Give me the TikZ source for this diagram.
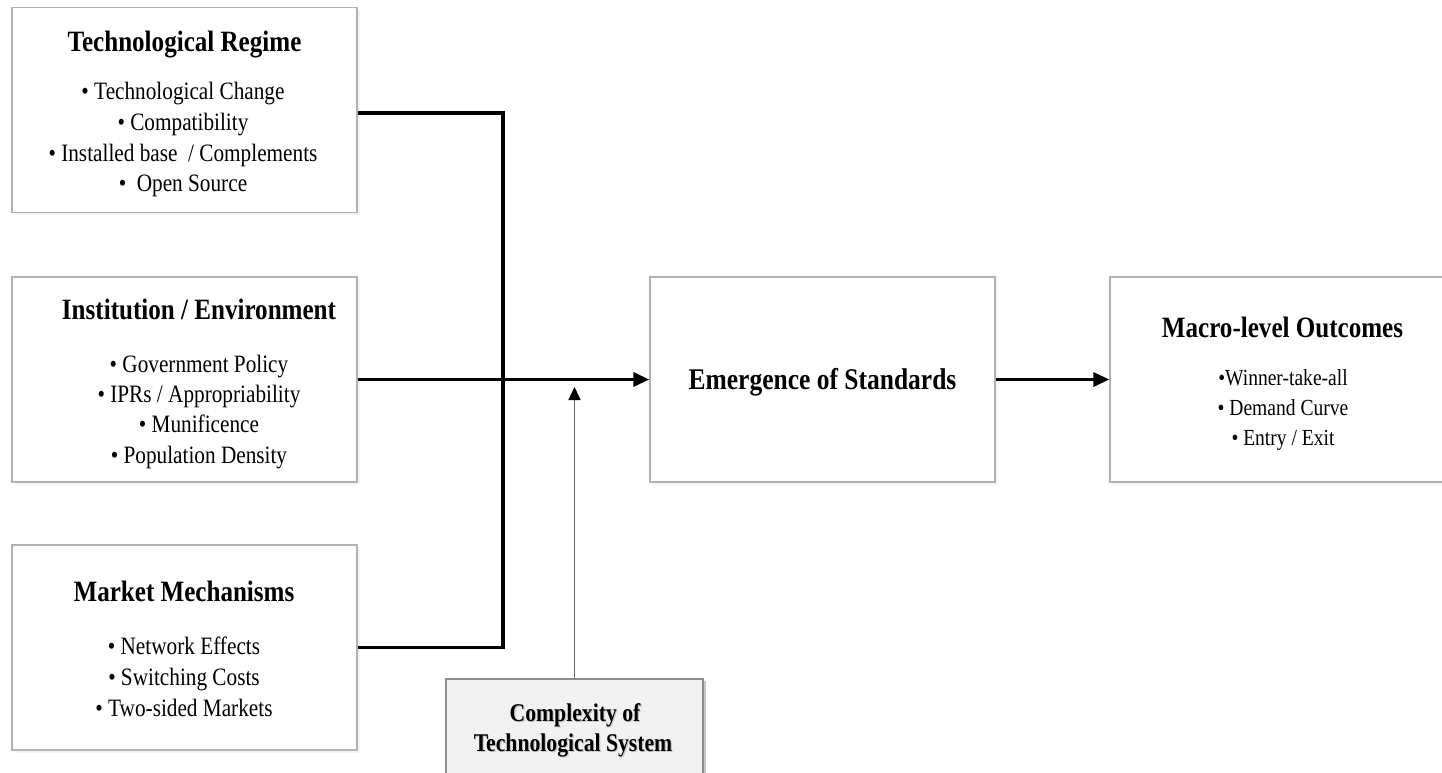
\documentclass[tikz,border=0pt]{standalone}
\usepackage{fontspec}
\setmainfont{Liberation Serif}
% narrow Times-like face used throughout the figure
\newfontfamily\condfont[FakeStretch=0.85]{Liberation Serif}
\usetikzlibrary{arrows.meta,shadows}

\tikzset{
  panel/.style={draw=black!30, line width=1.3pt, fill=white,
    drop shadow={shadow xshift=2.5pt, shadow yshift=-2.5pt, fill=black!8},
    minimum width=345pt, minimum height=205pt, inner sep=0pt},
  greypanel/.style={draw=black!45, line width=1.3pt, fill=black!5,
    drop shadow={shadow xshift=3pt, shadow yshift=-2pt, fill=black!45},
    minimum width=257pt, minimum height=130pt, inner sep=0pt},
  heading/.style={font=\condfont\bfseries\fontsize{29.5}{34}\selectfont, anchor=base, inner sep=0pt},
  entry/.style={font=\condfont\fontsize{25}{30}\selectfont, anchor=base, inner sep=0pt},
  smallentry/.style={font=\condfont\fontsize{23}{28}\selectfont, anchor=base, inner sep=0pt},
  sysheading/.style={font=\condfont\bfseries\fontsize{25.5}{30}\selectfont, anchor=base, inner sep=0pt},
  link/.style={line width=3.3pt, black},
  linkarrow/.style={link, -{Triangle[length=16pt,width=14pt]}},
  thinarrow/.style={line width=1.4pt, black!60, -{Triangle[length=13pt,width=12pt,color=black]}}
}

\begin{document}
\begin{tikzpicture}[x=1pt,y=-1pt]
  \useasboundingbox (0,0) rectangle (1442,773);
  \fill[white] (0,0) rectangle (1442,773);
  \clip (0,0) rectangle (1442,773);

  % boxes
  \node[panel] (tr) at (184.5,110) {};
  \node[panel] (ie) at (184.5,379.5) {};
  \node[panel] (mm) at (184.5,647.5) {};
  \node[panel] (em) at (822.5,379.5) {};
  \node[panel] (mo) at (1282.5,379.5) {};
  \node[greypanel] (cx) at (574.5,744) {};

  % Technological Regime
  \node[heading] (trT) at (184.5,52) {Technological Regime};
  \foreach \t [count=\i] in {{• Technological Change},{• Compatibility},
      {• Installed base\ \ / Complements},{•\ \ Open Source}}
    \node[entry] (tr\i) at (183,{100+(\i-1)*30.5}) {\t};

  % Institution / Environment
  \node[heading] (ieT) at (199,319.5) {Institution / Environment};
  \foreach \t [count=\i] in {{• Government Policy},{• IPRs / Appropriability},
      {• Munificence},{• Population Density}}
    \node[entry] (ie\i) at (199,{372+(\i-1)*30.4}) {\t};

  % Market Mechanisms
  \node[heading] (mmT) at (184,601.5) {Market Mechanisms};
  \foreach \t [count=\i] in {{• Network Effects},{• Switching Costs},{• Two-sided Markets}}
    \node[entry] (mm\i) at (184,{654+(\i-1)*31}) {\t};

  % Emergence of Standards
  \node[heading, font=\condfont\bfseries\fontsize{30}{34}\selectfont] (emT) at (822.5,389) {Emergence of Standards};

  % Macro-level Outcomes
  \node[heading] (moT) at (1282.5,337) {Macro-level Outcomes};
  \foreach \t [count=\i] in {{•Winner-take-all},{• Demand Curve},{• Entry / Exit}}
    \node[smallentry] (mo\i) at (1283,{385+(\i-1)*30}) {\t};

  % Complexity of Technological System (with soft text shadow)
  \node[sysheading, black!22] (cxS1) at (576.2,722.7) {Complexity of};
  \node[sysheading, black!22] (cxS2) at (574.2,752.2) {Technological System};
  \node[sysheading] (cx1) at (575,721.5) {Complexity of};
  \node[sysheading] (cx2) at (573,751) {Technological System};

  % connectors
  \coordinate (jt) at (503,113);
  \coordinate (jb) at (503,647.5);
  \coordinate (tip) at (574.5,387);
  \draw[link] (tr.east |- jt) -- (jt) -- (jb) -- (mm.east);
  \draw[linkarrow] (ie.east |- em.west) -- (em.west);
  \draw[linkarrow] (em.east) -- (mo.west);
  \draw[thinarrow] (cx.north) -- (tip);
\end{tikzpicture}
\end{document}
